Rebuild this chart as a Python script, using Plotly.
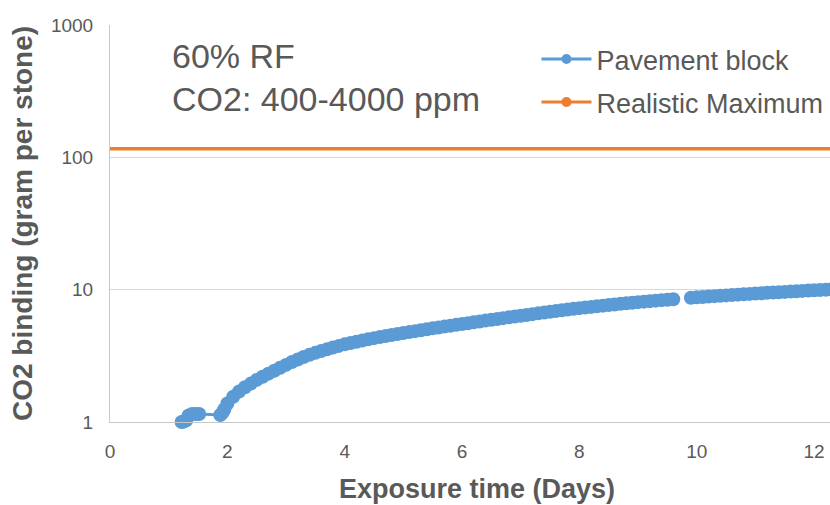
import plotly.graph_objects as go

# ---- data ----
days = [1.22, 1.26, 1.30, 1.34, 1.40, 1.46, 1.52, 1.88, 1.92, 1.95,
        2.0, 2.1, 2.2, 2.3, 2.4, 2.5, 2.6, 2.7, 2.8, 2.9,
        3.0, 3.1, 3.2, 3.3, 3.4, 3.5, 3.6, 3.7, 3.8, 3.9,
        4.0, 4.1, 4.2, 4.3, 4.4, 4.5, 4.6, 4.7, 4.8, 4.9,
        5.0, 5.1, 5.2, 5.3, 5.4, 5.5, 5.6, 5.7, 5.8, 5.9,
        6.0, 6.1, 6.2, 6.3, 6.4, 6.5, 6.6, 6.7, 6.8, 6.9,
        7.0, 7.1, 7.2, 7.3, 7.4, 7.5, 7.6, 7.7, 7.8, 7.9,
        8.0, 8.1, 8.2, 8.3, 8.4, 8.5, 8.6, 8.7, 8.8, 8.9,
        9.0, 9.1, 9.2, 9.3, 9.4, 9.5, 9.6, 9.75, 9.9,
        10.0, 10.1, 10.2, 10.3, 10.4, 10.5, 10.6, 10.7, 10.8, 10.9,
        11.0, 11.1, 11.2, 11.3, 11.4, 11.5, 11.6, 11.7, 11.8, 11.9,
        12.0, 12.1, 12.2, 12.3, 12.4, 12.5, 12.6]
binding = [1.00, 1.01, 1.03, 1.12, 1.15, 1.15, 1.15, 1.13, 1.18, 1.25,
           1.38, 1.55, 1.70, 1.83, 1.95, 2.08, 2.20, 2.32, 2.44, 2.57,
           2.70, 2.84, 2.97, 3.10, 3.22, 3.33, 3.44, 3.55, 3.66, 3.76,
           3.86, 3.95, 4.04, 4.13, 4.22, 4.30, 4.38, 4.46, 4.54, 4.62,
           4.70, 4.78, 4.86, 4.94, 5.02, 5.10, 5.18, 5.26, 5.34, 5.42,
           5.50, 5.58, 5.67, 5.75, 5.84, 5.92, 6.01, 6.09, 6.18, 6.26,
           6.35, 6.44, 6.53, 6.62, 6.71, 6.80, 6.89, 6.98, 7.07, 7.16,
           7.25, 7.33, 7.41, 7.49, 7.57, 7.65, 7.73, 7.81, 7.89, 7.97,
           8.05, 8.12, 8.19, 8.26, 8.33, 8.40, 8.47, None, 8.68,
           8.75, 8.81, 8.87, 8.93, 8.99, 9.05, 9.11, 9.17, 9.23, 9.29,
           9.35, 9.40, 9.46, 9.51, 9.57, 9.62, 9.68, 9.73, 9.79, 9.84,
           9.90, 9.95, 10.00, 10.05, 10.10, 10.15, 10.20]

max_days = [0, 14]
max_binding = [116, 116]

x_ticks = [0, 2, 4, 6, 8, 10, 12]
y_ticks = [1, 10, 100, 1000]
y_tick_text = ["1", "10", "100", "1000"]

BLUE = "#5B9BD5"
ORANGE = "#ED7D31"
GREY = "#595959"
FONT = "Liberation Sans, Arial, sans-serif"

fig = go.Figure()

fig.add_trace(go.Scatter(
    x=days, y=binding, mode="lines+markers", connectgaps=False,
    line=dict(color=BLUE, width=3),
    marker=dict(color=BLUE, size=14),
    cliponaxis=False, showlegend=False, name="Pavement block"))

fig.add_trace(go.Scatter(
    x=max_days, y=max_binding, mode="lines",
    line=dict(color=ORANGE, width=3.5),
    showlegend=False, name="Realistic Maximum"))

# legend entries
fig.add_trace(go.Scatter(
    x=[None], y=[None], mode="lines+markers", name="Pavement block",
    line=dict(color=BLUE, width=3), marker=dict(color=BLUE, size=10),
    legendgroup="a"))
fig.add_trace(go.Scatter(
    x=[None], y=[None], mode="lines+markers", name="Realistic Maximum",
    line=dict(color=ORANGE, width=3), marker=dict(color=ORANGE, size=10),
    legendgroup="b"))

fig.add_annotation(text="60% RF", xref="paper", yref="paper",
                   x=0.0817, y=0.922, xanchor="left", yanchor="middle",
                   showarrow=False, font=dict(family=FONT, size=34, color=GREY))
fig.add_annotation(text="CO2: 400-4000 ppm", xref="paper", yref="paper",
                   x=0.0817, y=0.813, xanchor="left", yanchor="middle",
                   showarrow=False, font=dict(family=FONT, size=34, color=GREY))

fig.update_layout(
    width=844, height=505,
    margin=dict(l=110, r=0, t=25, b=83),
    paper_bgcolor="white", plot_bgcolor="white",
    font=dict(family=FONT, color=GREY),
    legend=dict(x=0.581, y=0.975, xanchor="left", yanchor="top",
                bgcolor="rgba(255,255,255,0)", tracegroupgap=5, itemwidth=50,
                font=dict(family=FONT, size=27, color=GREY)),
    xaxis=dict(range=[0, 12.51], tickvals=x_ticks, showgrid=False,
               zeroline=False, showline=True, linecolor="#c8c8c8", linewidth=1,
               ticks="", ticklabelstandoff=12,
               tickfont=dict(family=FONT, size=19, color=GREY),
               title=dict(text="<b>Exposure time (Days)</b>", standoff=18,
                          font=dict(family=FONT, size=27, color=GREY))),
    yaxis=dict(type="log", range=[0, 3], tickvals=y_ticks, ticktext=y_tick_text,
               showgrid=True, gridcolor="#d9d9d9", gridwidth=1,
               zeroline=False, showline=True, linecolor="#c8c8c8", linewidth=1,
               ticks="", ticklabelstandoff=12,
               tickfont=dict(family=FONT, size=19, color=GREY),
               title=dict(text="<b>CO2 binding (gram per stone)</b>", standoff=10,
                          font=dict(family=FONT, size=28, color=GREY))),
)

fig.write_html(
    "out.html",
    config={"displayModeBar": False},
    post_script="document.body.style.margin='0';document.body.style.overflow='hidden';",
)
